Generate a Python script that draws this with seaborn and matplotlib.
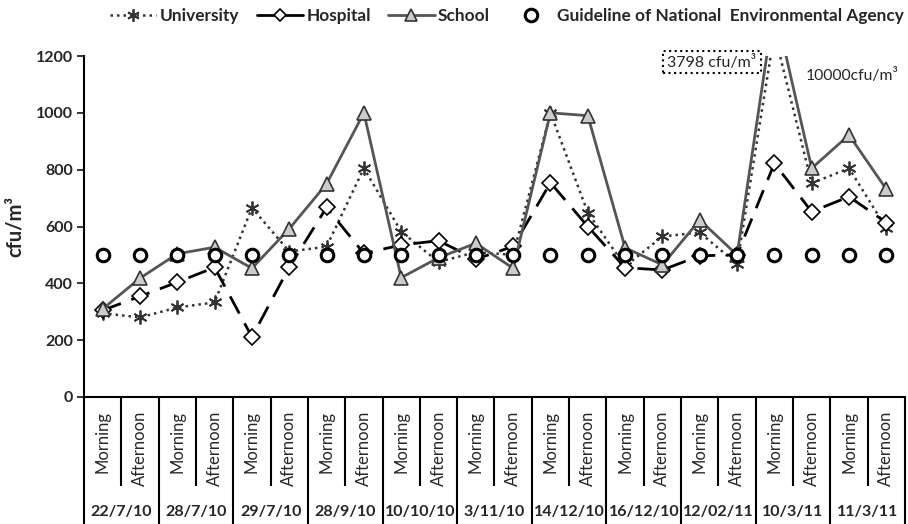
import matplotlib
matplotlib.use("Agg")
import matplotlib.pyplot as plt
from matplotlib.lines import Line2D
import seaborn as sns
import pandas as pd
import numpy as np

# ---- data ----
dates = ["22/7/10", "28/7/10", "29/7/10", "28/9/10", "10/10/10", "3/11/10",
         "14/12/10", "16/12/10", "12/02/11", "10/3/11", "11/3/11"]
periods = ["Morning", "Afternoon"]

# values drawn on the chart; the 10/3/11 morning peaks are drawn off-scale
# (true values given by the annotations)
university = [295, 280, 315, 333, 666, 512, 529, 805, 582, 475, 510, 500,
              1000, 649, 460, 565, 579, 468, 1280, 752, 805, 594]
hospital = [305, 354, 404, 456, 211, 457, 667, 505, 535, 550, 485, 530,
            754, 600, 455, 447, 497, 500, 822, 652, 705, 614]
school = [310, 418, 504, 527, 453, 592, 750, 1000, 420, 490, 541, 453,
          1000, 990, 525, 465, 623, 500, 1380, 805, 922, 731]
guideline = [500] * 22
peak_labels = ["3798 cfu/m\u00b3", "10000cfu/m\u00b3"]
series_names = ["University", "Hospital", "School",
                "Guideline of National  Environmental Agency"]

yticks = [0, 200, 400, 600, 800, 1000, 1200]

sns.set_style("white")
plt.rcParams["font.family"] = ["Lato", "DejaVu Sans"]

W, H = 908, 524
fig = plt.figure(figsize=(W / 100, H / 100), dpi=100)
ax = fig.add_axes([84 / W, 1 - 397 / H, (905 - 84) / W, (397 - 56) / H])

n = len(university)
x = np.arange(n)
df = pd.DataFrame({"x": x, "University": university, "Hospital": hospital,
                   "School": school, "Guideline": guideline})

styles = [
    dict(color="#333333", linestyle=(0, (1, 1.6)), linewidth=1.8,
         marker=(6, 2, 0), markersize=10, markeredgecolor="#333333",
         markeredgewidth=1.3),
    dict(color="black", linestyle=(0, (7, 4)), linewidth=2,
         marker="D", markersize=8, markerfacecolor="white",
         markeredgecolor="black", markeredgewidth=1.2),
    dict(color="#555555", linestyle="-", linewidth=2,
         marker="^", markersize=10, markerfacecolor="#cccccc",
         markeredgecolor="#333333", markeredgewidth=1.2),
    dict(color="black", linestyle="none",
         marker="o", markersize=9, markerfacecolor="white",
         markeredgecolor="black", markeredgewidth=2.2),
]
for col, name, st in zip(["University", "Hospital", "School", "Guideline"],
                         series_names, styles):
    sns.lineplot(data=df, x="x", y=col, ax=ax, errorbar=None, label=name, **st)

ax.set_xlim(-0.5, n - 0.5)
ax.set_ylim(0, 1200)
ax.set_yticks(yticks)
ax.set_yticklabels([str(v) for v in yticks], fontsize=11.5, fontweight="bold")
ax.tick_params(axis="y", length=5, width=1.3, direction="out", left=True, pad=3)
ax.set_xticks([])
ax.set_xlabel("")
ax.set_ylabel("cfu/m\u00b3", fontsize=14.5, fontweight="bold", labelpad=8)
for s in ["top", "right"]:
    ax.spines[s].set_visible(False)
for s in ["left", "bottom"]:
    ax.spines[s].set_color("black")
    ax.spines[s].set_linewidth(1.5)
if ax.get_legend():
    ax.get_legend().remove()

# two-level category axis
trans = ax.get_xaxis_transform()
short_y = -(486 - 397) / 341
long_y = -(524 - 397) / 341
for i in range(n + 1):
    yb = long_y if i % 2 == 0 else short_y
    ax.plot([i - 0.5, i - 0.5], [0, yb], transform=trans, color="black",
            lw=1.5, clip_on=False, solid_capstyle="butt")
for i in range(n):
    ax.text(i, -(411 - 397) / 341, periods[i % 2], transform=trans,
            rotation=90, ha="center", va="top", fontsize=12)
for j, d in enumerate(dates):
    ax.text(2 * j + 0.5, -(512 - 397) / 341, d, transform=trans,
            ha="center", va="center", fontsize=11.5, fontweight="bold")

# off-scale annotations
ax.text((712 - 84) / 821, (397 - 62) / 341, peak_labels[0],
        transform=ax.transAxes, ha="center", va="center", fontsize=11.5,
        bbox=dict(boxstyle="square,pad=0.25", fc="white", ec="black",
                  ls=":", lw=1.5))
ax.text((852 - 84) / 821, (397 - 75) / 341, peak_labels[1],
        transform=ax.transAxes, ha="center", va="center", fontsize=11.3)

# legend (hospital sample drawn solid as in the reference)
leg_handles = []
for i, st in enumerate(styles):
    st2 = dict(st)
    if i == 1:
        st2["linestyle"] = "-"
        st2["markersize"] = 6.5
    if i == 2:
        st2["markersize"] = 8.5
    if i == 0:
        st2["markersize"] = 9
    leg_handles.append(Line2D([], [], **st2))
fig.legend(leg_handles, series_names, loc="center",
           bbox_to_anchor=(507 / W, 1 - 16 / H),
           ncol=4, frameon=False, handlelength=2.7, columnspacing=1.0,
           handletextpad=0.2, prop=dict(size=12.4, weight="bold"))

fig.savefig("out.png", dpi=100)
